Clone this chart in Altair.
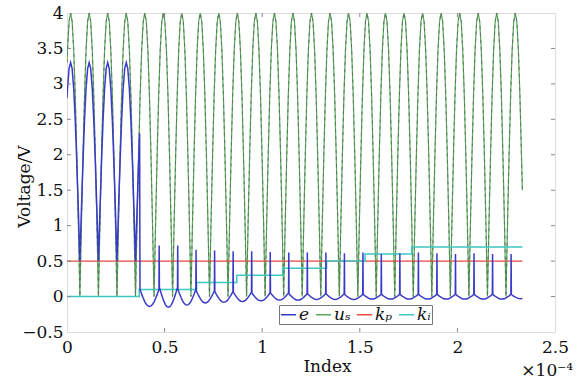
import altair as alt
import pandas as pd

# ---------------- values (time axis in units of 1e-4) ----------------
t_end = 2.333

# u_s : troughs (value 0) of the rectified signal, peak value 4
us_trough_t = [0.066, 0.161, 0.256, 0.351, 0.446, 0.541, 0.635, 0.730, 0.825, 0.920,
               1.015, 1.110, 1.205, 1.300, 1.395, 1.490, 1.584, 1.679, 1.774, 1.869,
               1.964, 2.059, 2.154, 2.249]
us_peak = 4.0
us_start = 3.3
us_end = 1.5

# shape of one rectified period (phase -> fraction of the swing)
cycle_phase = [0.0, 0.083, 0.167, 0.25, 0.333, 0.417, 0.5, 0.583, 0.667, 0.75, 0.833, 0.917, 1.0]
cycle_shape = [0.0, 0.26, 0.50, 0.71, 0.87, 0.97, 1.0, 0.97, 0.87, 0.71, 0.50, 0.26, 0.0]

# e : first stage (follows u_s between 0.5 and 3.3), then a drop
e1_trough = 0.5
e1_peak = 3.3
e1_start = 2.8
e_drop_t = [0.372, 0.374]
e_drop_v = [2.3, 0.10]

# e : ripple stage, cusp times, level of each segment's cusps / troughs, spike tops
e_cusp_t = [0.471, 0.566, 0.660, 0.755, 0.850, 0.945, 1.040, 1.135, 1.230, 1.325,
            1.420, 1.515, 1.609, 1.704, 1.799, 1.894, 1.989, 2.084, 2.179, 2.274]
e_seg_top = [0.10, 0.13, 0.10, 0.08, 0.07, 0.06, 0.05, 0.05, 0.04, 0.04, 0.04,
             0.03, 0.03, 0.03, 0.03, 0.03, 0.03, 0.03, 0.03, 0.03, 0.03]
e_seg_bottom = [-0.14, -0.15, -0.12, -0.09, -0.08, -0.07, -0.06, -0.05, -0.05, -0.04, -0.04,
                -0.04, -0.035, -0.035, -0.035, -0.035, -0.035, -0.035, -0.035, -0.035, -0.03]
e_spike = [0.72, 0.72, 0.66, 0.65, 0.64, 0.64, 0.63, 0.62, 0.62, 0.62,
           0.61, 0.62, 0.60, 0.61, 0.62, 0.61, 0.60, 0.61, 0.60, 0.60]

# k_p and k_i
kp_value = 0.5
ki_step_t = [0.0, 0.370, 0.664, 0.870, 1.105, 1.330, 1.527, 1.766]
ki_step_v = [0.0, 0.1, 0.2, 0.3, 0.4, 0.5, 0.6, 0.7]

series_names = ["e", "u\u209b", "k\u209a", "k\u1d62"]
series_colors = ["#3a3ac8", "#5aa65a", "#e5483f", "#3ec8c2"]

x_ticks = [0.0, 0.5, 1.0, 1.5, 2.0, 2.5]
y_ticks = [-0.5, 0.0, 0.5, 1.0, 1.5, 2.0, 2.5, 3.0, 3.5, 4.0]
x_label = "Index"
y_label = "Voltage/V"
x_mult = "\u00d710\u207b\u2074"

# ---------------- build tables ----------------
def rect_cycles(troughs, low, high, t_stop):
    pts = []
    period0 = troughs[1] - troughs[0]
    starts = [troughs[0] - period0] + troughs
    for k, s in enumerate(starts):
        if k + 1 < len(starts):
            per = starts[k + 1] - s
        else:
            per = s - starts[k - 1]
        for ph, sh in zip(cycle_phase[:-1], cycle_shape[:-1]):
            t = s + ph * per
            if 0 < t < t_stop:
                pts.append((t, low + (high - low) * sh))
    return pts

rows = []
def add(series, pts):
    for i, (t, v) in enumerate(pts):
        rows.append({"series": series, "t": t, "v": v, "i": i})

# u_s
us_pts = [(0.0, us_start)] + rect_cycles(us_trough_t, 0.0, us_peak, t_end) + [(t_end, us_end)]
add(series_names[1], us_pts)

# e
e_pts = [(0.0, e1_start)] + rect_cycles(us_trough_t[:4], e1_trough, e1_peak, e_drop_t[0])
e_pts += list(zip(e_drop_t, e_drop_v))
bounds = [e_drop_t[1]] + e_cusp_t
for s_i in range(len(e_seg_top)):
    s = bounds[s_i] if s_i == 0 else bounds[s_i] + 0.0024
    if s_i + 1 < len(bounds):
        per = bounds[s_i + 1] - s
    else:
        per = bounds[s_i] - bounds[s_i - 1]
    top, bot = e_seg_top[s_i], e_seg_bottom[s_i]
    for ph, sh in zip(cycle_phase, cycle_shape):
        t = s + ph * per
        if t <= t_end:
            e_pts.append((t, top - (top - bot) * sh))
    if s_i < len(e_spike):
        e_pts.append((bounds[s_i + 1] + 0.0012, e_spike[s_i]))
if e_pts[-1][0] < t_end:
    e_pts.append((t_end, e_seg_bottom[-1]))
add(series_names[0], e_pts)

# k_p
add(series_names[2], [(0.0, kp_value), (t_end, kp_value)])

# k_i
ki_pts = []
for j, (t, v) in enumerate(zip(ki_step_t, ki_step_v)):
    if j > 0:
        ki_pts.append((t, ki_step_v[j - 1]))
    ki_pts.append((t, v))
ki_pts.append((t_end, ki_step_v[-1]))
add(series_names[3], ki_pts)

df = pd.DataFrame(rows)

W, H = 488, 319
FONT = "DejaVu Serif"
FS = 17

x_enc = alt.X("t:Q", scale=alt.Scale(domain=[0, 2.5], nice=False, zero=False),
              axis=alt.Axis(values=x_ticks, format="~g", title=x_label, grid=False,
                            ticks=False, domain=False, labelFlush=False,
                            labelFont=FONT, labelFontSize=FS, labelColor="#111",
                            labelPadding=7, titleFont=FONT, titleFontSize=FS,
                            titleFontWeight="normal", titleColor="#111",
                            titleX=260, titleY=39, titleBaseline="alphabetic"))
y_enc = alt.Y("v:Q", scale=alt.Scale(domain=[-0.5, 4], nice=False, zero=False),
              axis=alt.Axis(values=y_ticks, format="~g", title=y_label, grid=False,
                            ticks=False, domain=False, labelFont=FONT, labelFontSize=FS,
                            labelColor="#111", labelPadding=4, titleFont=FONT,
                            titleFontSize=FS, titleFontWeight="normal", titleColor="#111",
                            titleX=-38, titleY=173, titleAlign="center",
                            titleBaseline="alphabetic"))
color_enc = alt.Color("series:N",
                      scale=alt.Scale(domain=series_names, range=series_colors),
                      legend=alt.Legend(orient="none", legendX=212, legendY=292,
                                        direction="horizontal", title=None,
                                        symbolType="stroke", symbolSize=230,
                                        symbolStrokeWidth=1.5, labelFont=FONT,
                                        labelFontStyle="italic", labelFontSize=FS,
                                        labelColor="#111", labelOffset=2,
                                        columnPadding=2, padding=1,
                                        strokeColor="#777", fillColor="white"))

def series_layer(name, width, dash=None, colored=True):
    mark_kw = dict(strokeWidth=width, clip=True)
    if dash:
        mark_kw["strokeDash"] = dash
    enc = dict(x=x_enc, y=y_enc, order="i:Q")
    if colored:
        enc["color"] = color_enc
    else:
        mark_kw["color"] = "#56705a"
    return (alt.Chart(df).transform_filter(alt.datum.series == name)
            .mark_line(**mark_kw).encode(**enc))

green = series_layer(series_names[1], 1.2)
green_dash = series_layer(series_names[1], 0.9, dash=[3, 4], colored=False)
red = series_layer(series_names[2], 1.1)
cyan = series_layer(series_names[3], 1.5)
blue = series_layer(series_names[0], 1.5)

xt = pd.DataFrame({"t": x_ticks[1:-1]})
yt = pd.DataFrame({"v": y_ticks[1:-1]})
tick_color = "#888"
xb = alt.Chart(xt).mark_rule(color=tick_color).encode(x=x_enc, y=alt.value(H), y2=alt.value(H - 4))
xtop = alt.Chart(xt).mark_rule(color=tick_color).encode(x=x_enc, y=alt.value(0), y2=alt.value(4))
yl = alt.Chart(yt).mark_rule(color=tick_color).encode(y=y_enc, x=alt.value(0), x2=alt.value(4))
yr = alt.Chart(yt).mark_rule(color=tick_color).encode(y=y_enc, x=alt.value(W), x2=alt.value(W - 4))

chart = alt.layer(green, green_dash, red, cyan, blue, xb, xtop, yl, yr).properties(
    width=W, height=H,
    title=alt.TitleParams(text=x_mult, orient="bottom", anchor="end", frame="group",
                          font=FONT, fontSize=FS, fontWeight="normal", color="#111",
                          dx=18, dy=-15),
    autosize=alt.AutoSizeParams(type="none"),
    padding={"left": 67, "top": 13, "right": 24, "bottom": 49},
).configure_view(stroke="#888", strokeWidth=1.2).configure(background="white")

chart.save("out.html", embed_options={"renderer": "svg", "actions": False})
